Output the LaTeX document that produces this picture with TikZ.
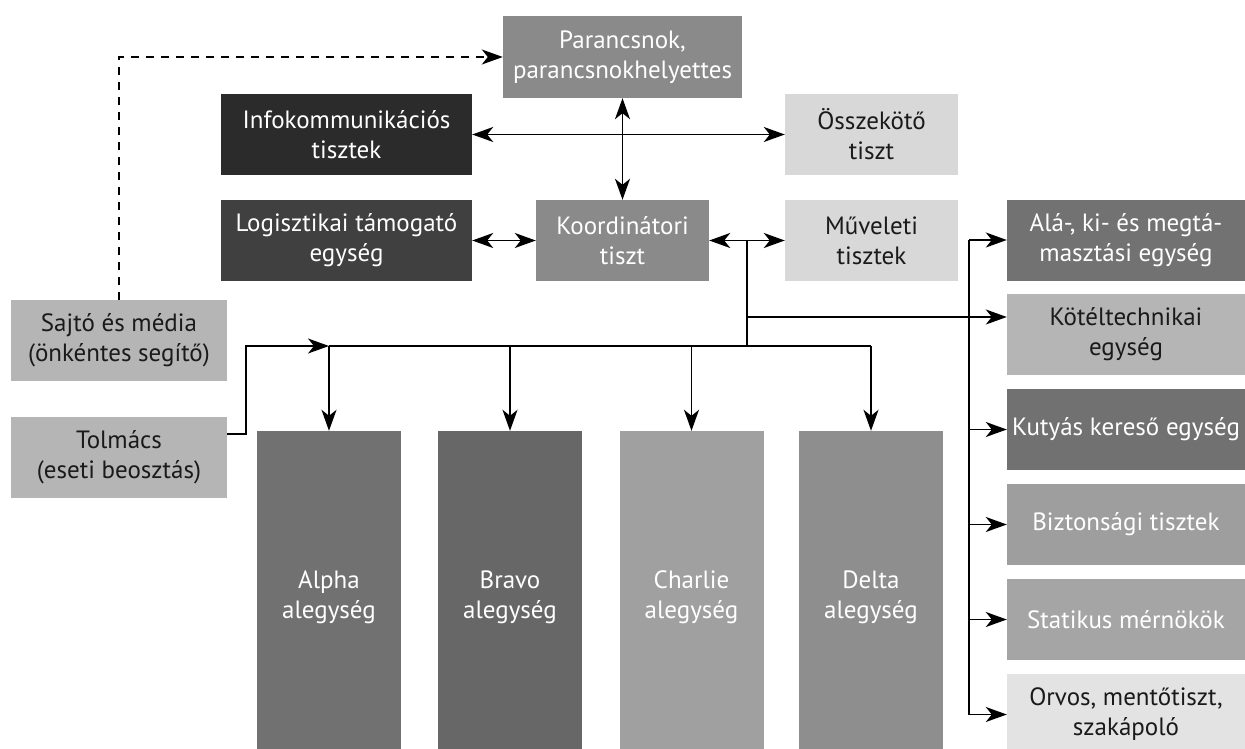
\documentclass[tikz,border=0pt]{standalone}
\usepackage{fontspec}
\setmainfont{PT Sans}
\usetikzlibrary{arrows.meta,calc}
\definecolor{cpar}{HTML}{8A8A8A}
\definecolor{cinfo}{HTML}{2B2B2B}
\definecolor{clogi}{HTML}{404040}
\definecolor{ckoord}{HTML}{8A8A8A}
\definecolor{clight}{HTML}{D8D8D8}
\definecolor{cala}{HTML}{727272}
\definecolor{ckotel}{HTML}{B5B5B5}
\definecolor{ckutya}{HTML}{717171}
\definecolor{cbizt}{HTML}{9E9E9E}
\definecolor{cstat}{HTML}{A5A5A5}
\definecolor{corvos}{HTML}{E3E3E3}
\definecolor{csajto}{HTML}{B5B5B5}
\definecolor{calpha}{HTML}{717171}
\definecolor{cbravo}{HTML}{676767}
\definecolor{ccharlie}{HTML}{A0A0A0}
\definecolor{cdelta}{HTML}{8E8E8E}
\definecolor{ctext}{HTML}{1A1A1A}
\begin{document}
\begin{tikzpicture}[x=1pt,y=-1pt,
  box/.style={rectangle, inner sep=0pt, align=center, font=\fontsize{25}{30}\selectfont, text=white},
  dk/.style={text=ctext},
  conn/.style={line width=1.8pt, -{Stealth[length=21pt,width=15pt,inset=6pt]}},
  biconn/.style={line width=1.8pt, {Stealth[length=21pt,width=15pt,inset=6pt]}-{Stealth[length=21pt,width=15pt,inset=6pt]}},
  plain/.style={line width=1.8pt},
  dashconn/.style={line width=1.8pt, dash pattern=on 8pt off 7pt, -{Stealth[length=21pt,width=15pt,inset=6pt]}},
  ]
\useasboundingbox (0,0) rectangle (1245,749);
% top area
\node[box, fill=cpar, minimum width=239pt, minimum height=82pt] (par) at (622.5,57) {Parancsnok,\\parancsnokhelyettes};
\node[box, fill=cinfo, minimum width=251pt, minimum height=81pt] (info) at (346.5,134.5) {Infokommunikációs\\tisztek};
\node[box, dk, fill=clight, minimum width=173pt, minimum height=81pt] (ossz) at (871.5,134.5) {Összekötő\\tiszt};
\node[box, fill=clogi, minimum width=251pt, minimum height=81pt] (logi) at (346.5,240.5) {Logisztikai támogató\\egység};
\node[box, fill=ckoord, minimum width=173pt, minimum height=81pt] (koord) at (622.5,240.5) {Koordinátori\\tiszt};
\node[box, dk, fill=clight, minimum width=173pt, minimum height=81pt] (muv) at (871.5,240.5) {Műveleti\\tisztek};
% right column
\node[box, fill=cala, minimum width=238pt, minimum height=81pt] (ala) at (1126,240) {Alá-, ki- és megtá-\\masztási egység};
\node[box, dk, fill=ckotel, minimum width=238pt, minimum height=81pt] (kotel) at (1126,334.5) {Kötéltechnikai\\egység};
\node[box, fill=ckutya, minimum width=238pt, minimum height=81pt] (kutya) at (1126,429.5) {Kutyás kereső egység};
\node[box, fill=cbizt, minimum width=238pt, minimum height=81pt] (bizt) at (1126,524.5) {Biztonsági tisztek};
\node[box, fill=cstat, minimum width=238pt, minimum height=81pt] (stat) at (1126,619.5) {Statikus mérnökök};
\node[box, dk, fill=corvos, minimum width=238pt, minimum height=81pt] (orvos) at (1126,714.5) {Orvos, mentőtiszt,\\szakápoló};
% left column
\node[box, dk, fill=csajto, minimum width=216pt, minimum height=81pt] (sajto) at (119,340.5) {Sajtó és média\\(önkéntes segítő)};
\node[box, dk, fill=csajto, minimum width=216pt, minimum height=81pt] (tolm) at (119,457.5) {Tolmács\\(eseti beosztás)};
% subunits
\node[box, fill=calpha, minimum width=144pt, minimum height=332pt] (alpha) at (329,597) {Alpha\\alegység};
\node[box, fill=cbravo, minimum width=144pt, minimum height=332pt] (bravo) at (510,597) {Bravo\\alegység};
\node[box, fill=ccharlie, minimum width=144pt, minimum height=332pt] (charlie) at (691.5,597) {Charlie\\alegység};
\node[box, fill=cdelta, minimum width=144pt, minimum height=332pt] (delta) at (871,597) {Delta\\alegység};
% helper coordinates
\coordinate (jk) at (747,240.5);
\coordinate (bus) at (747,346);
\coordinate (br) at (747,317);
\coordinate (spx) at (969,0);
\coordinate (telb) at (246,0);
% connectors
\draw[dashconn] (sajto.north) |- (par.west);
\draw[biconn] (info.east) -- (ossz.west);
\draw[biconn] (par.south) -- (koord.north);
\draw[biconn] (logi.east) -- (koord.west);
\draw[biconn] (koord.east) -- (muv.west);
\draw[plain] (jk) -- (bus);
\draw[conn] (br) -- (br -| kotel.west);
\draw[plain] (spx |- ala.west) -- (spx |- orvos.west);
\draw[conn] (spx |- ala.west) -- (ala.west);
\draw[conn] (spx |- kutya.west) -- (kutya.west);
\draw[conn] (spx |- bizt.west) -- (bizt.west);
\draw[conn] (spx |- stat.west) -- (stat.west);
\draw[conn] (spx |- orvos.west) -- (orvos.west);
\draw[plain] (bus -| alpha.north) -- (bus -| delta.north);
\draw[conn] (bus -| alpha.north) -- (alpha.north);
\draw[conn] (bus -| bravo.north) -- (bravo.north);
\draw[conn] (bus -| charlie.north) -- (charlie.north);
\draw[conn] (bus -| delta.north) -- (delta.north);
\coordinate (tx) at ($(tolm.east)+(0,-23.5)$);
\draw[conn] (tx) -- (tx -| telb) -- (bus -| telb) -- (bus -| alpha.north);
\end{tikzpicture}
\end{document}
